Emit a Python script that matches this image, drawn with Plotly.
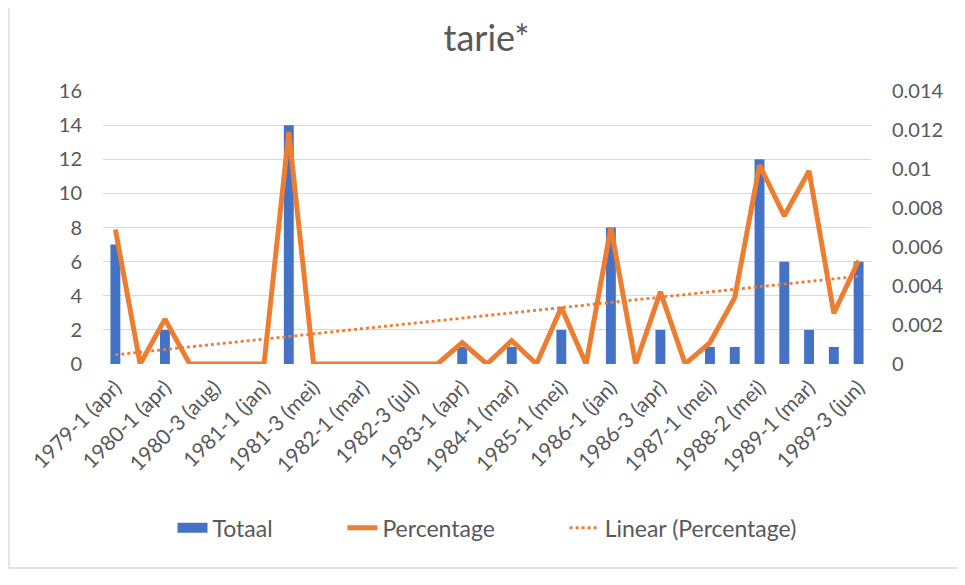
import numpy as np
import plotly.graph_objects as go

# categories (only every other one is labelled in the chart)
categories = [
    "1979-1 (apr)", "1979-2 (sep)", "1980-1 (apr)", "1980-2 (jun)", "1980-3 (aug)",
    "1980-4 (nov)", "1981-1 (jan)", "1981-2 (mar)", "1981-3 (mei)", "1981-4 (okt)",
    "1982-1 (mar)", "1982-2 (mei)", "1982-3 (jul)", "1982-4 (nov)", "1983-1 (apr)",
    "1983-2 (okt)", "1984-1 (mar)", "1984-2 (sep)", "1985-1 (mei)", "1985-2 (okt)",
    "1986-1 (jan)", "1986-2 (mar)", "1986-3 (apr)", "1986-4 (okt)", "1987-1 (mei)",
    "1988-1 (feb)", "1988-2 (mei)", "1988-3 (okt)", "1989-1 (mar)", "1989-2 (mei)",
    "1989-3 (jun)",
]

totaal = [7, 0, 2, 0, 0, 0, 0, 14, 0, 0, 0, 0, 0, 0, 1, 0, 1, 0, 2, 0,
          8, 0, 2, 0, 1, 1, 12, 6, 2, 1, 6]

percentage = [0.0069, 0, 0.0023, 0, 0, 0, 0, 0.0119, 0, 0, 0, 0, 0, 0, 0.0011, 0,
              0.0012, 0, 0.0029, 0, 0.0070, 0, 0.0037, 0, 0.0011, 0.0034, 0.0102,
              0.0076, 0.0099, 0.0026, 0.0053]

left_ticks = [0, 2, 4, 6, 8, 10, 12, 14, 16]
right_ticks = [0, 0.002, 0.004, 0.006, 0.008, 0.01, 0.012, 0.014]
right_ticktext = ["0", "0.002", "0.004", "0.006", "0.008", "0.01", "0.012", "0.014"]

# linear trendline of the percentage series (as Excel does)
idx = np.arange(1, len(percentage) + 1)
slope, intercept = np.polyfit(idx, percentage, 1)
trend = slope * idx + intercept

BLUE = "#4472C4"
ORANGE = "#ED7D31"
GREY = "#595959"
FONT = "Lato"
PAD = "\u00a0" * 11  # widens legend entries to Excel spacing

fig = go.Figure()

fig.add_trace(go.Bar(
    x=categories, y=totaal, name="Totaal", showlegend=False,
    marker=dict(color=BLUE, line=dict(width=0)),
))
# legend entry only: wide blue block like the Excel legend key
fig.add_trace(go.Scatter(
    x=[None], y=[None], name="Totaal" + PAD, mode="lines",
    line=dict(color=BLUE, width=13),
))
fig.add_trace(go.Scatter(
    x=categories, y=percentage, name="Percentage" + PAD, yaxis="y2",
    mode="lines", line=dict(color=ORANGE, width=5),
))
fig.add_trace(go.Scatter(
    x=categories, y=trend, name="Linear (Percentage)", yaxis="y2",
    mode="lines", line=dict(color=ORANGE, width=2.8, dash="dot"),
))

# page has an 8px body margin, so the figure is a bit smaller than the window
fig.update_layout(
    width=957, height=577,
    margin=dict(l=95, r=94, t=83, b=221),
    paper_bgcolor="white", plot_bgcolor="white",
    font=dict(family=FONT, size=21, color=GREY),
    title=dict(text="tarie*", x=0.5, xanchor="center", y=0.948, yanchor="middle",
               font=dict(size=36, color=GREY)),
    bargap=0.6,
    showlegend=True,
    legend=dict(orientation="h", x=0.5, xanchor="center", y=-0.6, yanchor="middle",
                font=dict(size=23, color=GREY), itemwidth=30, traceorder="normal"),
    xaxis=dict(
        type="category", range=[-0.5, len(categories) - 0.5],
        tickmode="array", tickvals=categories[::2], ticktext=categories[::2],
        tickangle=-45, tickfont=dict(size=21, color=GREY),
        showgrid=False, showline=False, zeroline=False, ticks="",
        ticklabelstandoff=6, automargin=False,
    ),
    yaxis=dict(
        range=[0, 16], tickvals=left_ticks, showgrid=True, gridcolor="#D9D9D9",
        gridwidth=1.3, zeroline=False, showline=False, ticks="",
        ticklabelstandoff=20, tickfont=dict(size=20, color=GREY), automargin=False,
    ),
    yaxis2=dict(
        overlaying="y", side="right", range=[0, 0.014],
        tickvals=right_ticks, ticktext=right_ticktext, showgrid=False,
        zeroline=False, showline=False, ticks="",
        ticklabelstandoff=20, tickfont=dict(size=20, color=GREY), automargin=False,
    ),
    shapes=[dict(type="rect", xref="paper", yref="paper",
                 x0=(1 - 95) / 768, x1=(956 - 95) / 768,
                 y0=(356 - 560) / 273, y1=1.4,
                 line=dict(color="#D9D9D9", width=1.3), layer="below")],
)

fig.write_html("out.html")
